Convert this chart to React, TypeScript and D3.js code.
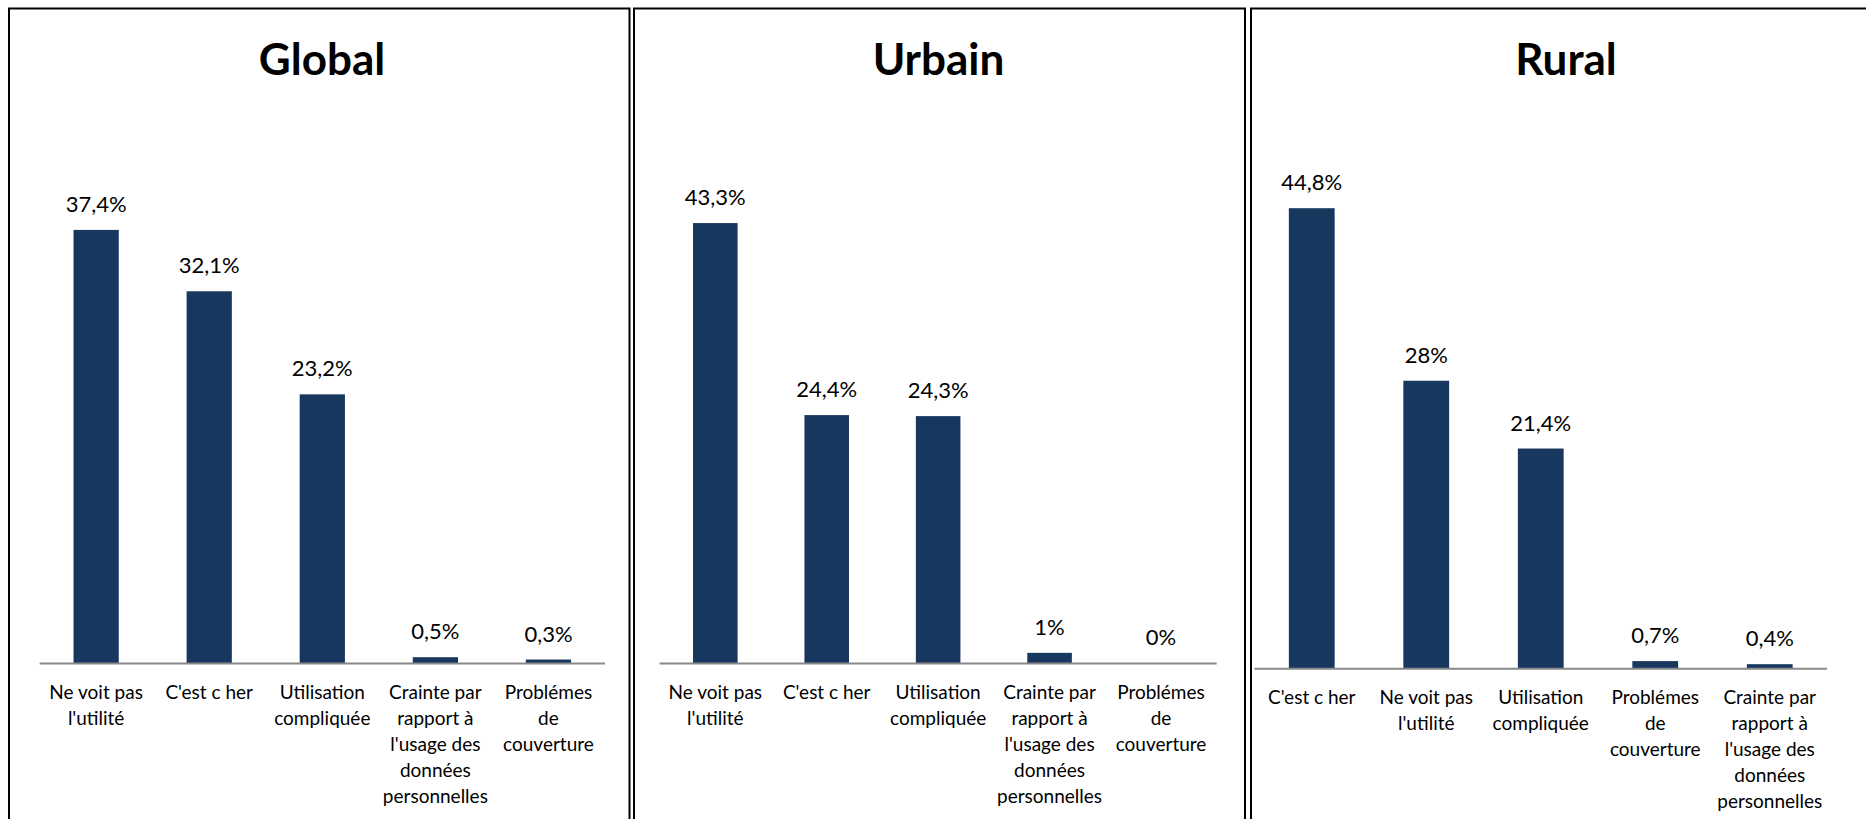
import React from 'react';
import * as d3 from 'd3';

// categories (line breaks = wrapped tick labels)
const globalCategories = [
    "Ne voit pas\nl'utilité",
    "C'est c her",
    'Utilisation\ncompliquée',
    "Crainte par\nrapport à\nl'usage des\ndonnées\npersonnelles",
    'Problémes\nde\ncouverture',
];
const globalValues = [37.4, 32.1, 23.2, 0.5, 0.3];
const globalLabels = ['37,4%', '32,1%', '23,2%', '0,5%', '0,3%'];

const urbainCategories = globalCategories;
const urbainValues = [43.3, 24.4, 24.3, 1, 0];
const urbainLabels = ['43,3%', '24,4%', '24,3%', '1%', '0%'];

const ruralCategories = [
    "C'est c her",
    "Ne voit pas\nl'utilité",
    'Utilisation\ncompliquée',
    'Problémes\nde\ncouverture',
    "Crainte par\nrapport à\nl'usage des\ndonnées\npersonnelles",
];
const ruralValues = [44.8, 28, 21.4, 0.7, 0.4];
const ruralLabels = ['44,8%', '28%', '21,4%', '0,7%', '0,4%'];

const BAR_COLOR = '#17375E';
const FONT = 'Lato, "Open Sans", sans-serif';

interface PanelProps {
    title: string;
    categories: string[];
    values: number[];
    labels: string[];
    frame: [number, number]; // left, right
    titleX: number;
    axisX: [number, number];
    baseline: number;
    yMax: number;
    yTop: number;
}

const Panel: React.FC<PanelProps> = ({ title, categories, values, labels, frame, titleX, axisX, baseline, yMax, yTop }) => {
    const x = d3.scaleBand<number>().domain(d3.range(categories.length)).range(axisX).padding(0);
    const y = d3.scaleLinear().domain([0, yMax]).range([baseline, yTop]);
    const barW = x.bandwidth() * 0.4;

    return (
        <g>
            <rect x={frame[0]} y={8.5} width={frame[1] - frame[0]} height={850} fill="none" stroke="#000" strokeWidth={2} />
            <text x={titleX} y={75} textAnchor="middle" fontFamily={FONT} fontWeight={700} fontSize={44} fill="#000">
                {title}
            </text>
            {values.map((v, i) => {
                const cx = (x(i) ?? 0) + x.bandwidth() / 2;
                const top = y(v);
                return (
                    <g key={i}>
                        {v > 0 && <rect x={cx - barW / 2} y={top} width={barW} height={baseline - top} fill={BAR_COLOR} />}
                        <text x={cx} y={top - 18} textAnchor="middle" fontFamily={FONT} fontSize={22} fill="#000">
                            {labels[i]}
                        </text>
                    </g>
                );
            })}
            <line x1={axisX[0]} x2={axisX[1]} y1={baseline + 0.5} y2={baseline + 0.5} stroke="#898989" strokeWidth={2} />
            {categories.map((c, i) => {
                const cx = (x(i) ?? 0) + x.bandwidth() / 2;
                return (
                    <text key={i} textAnchor="middle" fontFamily={FONT} fontSize={19} fill="#000">
                        {c.split('\n').map((line, j) => (
                            <tspan key={j} x={cx} y={baseline + 36 + j * 26}>
                                {line}
                            </tspan>
                        ))}
                    </text>
                );
            })}
        </g>
    );
};

const App: React.FC = () => {
    return (
        <svg width={1866} height={819} style={{ position: 'absolute', left: 0, top: 0, background: '#fff' }}>
            <Panel
                title="Global"
                categories={globalCategories}
                values={globalValues}
                labels={globalLabels}
                frame={[9, 629.5]}
                titleX={322}
                axisX={[39.6, 605]}
                baseline={663}
                yMax={40}
                yTop={663 - 463.2}
            />
            <Panel
                title="Urbain"
                categories={urbainCategories}
                values={urbainValues}
                labels={urbainLabels}
                frame={[634, 1245]}
                titleX={938.5}
                axisX={[659.6, 1216.7]}
                baseline={663}
                yMax={50}
                yTop={663 - 508}
            />
            <Panel
                title="Rural"
                categories={ruralCategories}
                values={ruralValues}
                labels={ruralLabels}
                frame={[1251, 1881]}
                titleX={1566}
                axisX={[1254.5, 1827]}
                baseline={668.3}
                yMax={50}
                yTop={668.3 - 513.5}
            />
        </svg>
    );
};

export default App;
